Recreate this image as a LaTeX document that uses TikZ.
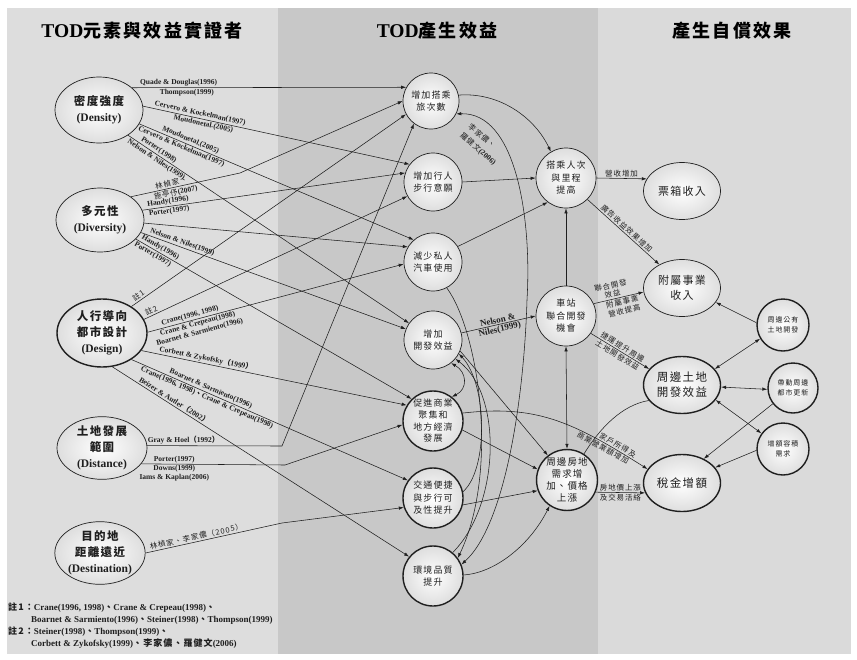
\documentclass[tikz,border=0pt]{standalone}
\usepackage{fontspec}
\setmainfont{Liberation Serif}
\newfontfamily\cjk[LetterSpace=12]{Noto Sans CJK TC}
\newfontfamily\cjkhead[LetterSpace=12]{Noto Sans CJK TC}
\usetikzlibrary{arrows.meta,shapes.geometric}
\newcommand{\zh}[1]{{\cjk #1}}
\newcommand{\zhm}[1]{{\cjk\mdseries #1}}
\newcommand{\zhh}[1]{{\fontsize{18}{22}\selectfont\cjkhead #1}}
\definecolor{panelA}{gray}{0.865}
\definecolor{panelB}{gray}{0.785}
\definecolor{panelC}{gray}{0.855}
\definecolor{ink}{gray}{0.12}

\tikzset{
  bub/.style={draw=ink, line width=0.7pt, inner color=white, outer color=black!13,
    inner sep=0pt, align=center, text=ink},
  heavy/.style={line width=1.4pt},
  elemnode/.style={bub, ellipse, minimum width=88pt, minimum height=66pt,
    font=\fontsize{11.5}{16}\selectfont\bfseries},
  gainnode/.style={bub, circle, minimum size=58pt, font=\fontsize{9}{12.5}\selectfont\cjk},
  outnode/.style={bub, ellipse, minimum width=77pt, minimum height=57pt,
    font=\fontsize{11}{15}\selectfont\cjk},
  sidenode/.style={bub, heavy, circle, minimum size=52pt, font=\fontsize{7}{10}\selectfont\cjk},
  edgelab/.style={inner sep=1.2pt, font=\fontsize{7.5}{8.5}\selectfont\bfseries, text=ink, align=center},
  edgelabbig/.style={inner sep=1.2pt, font=\fontsize{9}{10}\selectfont\bfseries, text=ink, align=center},
  zhlab/.style={inner sep=1.2pt, font=\fontsize{7.5}{9}\selectfont\cjk, text=ink, align=center},
  wire/.style={draw=ink, line width=0.55pt},
  arr/.style={wire, -{Latex[length=5pt,width=3.4pt]}},
  darr/.style={wire, {Latex[length=5pt,width=3.4pt]}-{Latex[length=5pt,width=3.4pt]}},
  headtext/.style={inner sep=0pt, font=\fontsize{19.5}{22}\selectfont\bfseries, text=black},
  foottext/.style={inner sep=0pt, anchor=west, font=\fontsize{9}{10}\selectfont\bfseries, text=ink},
}

\begin{document}
\begin{tikzpicture}[x=1pt,y=-1pt]
\useasboundingbox (0,0) rectangle (857,659);
\fill[white] (0,0) rectangle (857,659);
% three column panels
\fill[panelA] (7,8) rectangle (278,654);
\fill[panelB] (278,8) rectangle (598,654);
\fill[panelC] (598,8) rectangle (851,654);

% column headings
\node[headtext] at (142,31) {TOD\zhh{元素與效益實證者}};
\node[headtext] at (437,31) {TOD\zhh{產生效益}};
\node[headtext] at (732,31) {\zhh{產生自償效果}};

% TOD elements
\node[elemnode] (den) at (99,110) {\zh{密度強度}\\(Density)};
\node[elemnode, minimum height=64pt] (div) at (100,220) {\zh{多元性}\\(Diversity)};
\node[elemnode, heavy, minimum width=90pt, minimum height=68pt] (des) at (102,333) {\zh{人行導向}\\\zh{都市設計}\\(Design)};
\node[elemnode, minimum width=90pt, minimum height=62pt] (dis) at (102,448) {\zh{土地發展}\\\zh{範圍}\\(Distance)};
\node[elemnode, minimum width=84pt, minimum height=62pt] (dst) at (100,553) {\zh{目的地}\\\zh{距離遠近}\\(Destination)};

% benefits
\node[gainnode, minimum size=56pt] (m1) at (431,101) {增加搭乘\\旅次數};
\node[gainnode] (m2) at (433,182) {增加行人\\步行意願};
\node[gainnode] (m3) at (433,262) {減少私人\\汽車使用};
\node[gainnode] (m4) at (433,340) {增加\\開發效益};
\node[gainnode, heavy, minimum size=60pt, font=\fontsize{9}{11.7}\selectfont\cjk] (m5) at (433,421) {促進商業\\聚集和\\地方經濟\\發展};
\node[gainnode, heavy, minimum size=60pt] (m6) at (433,498) {交通便捷\\與步行可\\及性提升};
\node[gainnode, heavy, minimum size=60pt] (m7) at (433,576) {環境品質\\提升};
\node[gainnode, minimum size=60pt] (t1) at (566,178) {搭乘人次\\與里程\\提高};
\node[gainnode, minimum size=60pt] (t2) at (566,316) {車站\\聯合開發\\機會};
\node[gainnode, heavy, minimum size=60pt, font=\fontsize{9.5}{12}\selectfont\cjk] (t3) at (567,480) {周邊房地\\需求增\\加、價格\\上漲};

% self-financing outcomes
\node[outnode] (r1) at (682,191) {票箱收入};
\node[outnode] (r2) at (682,288) {附屬事業\\收入};
\node[outnode, heavy, font=\fontsize{11.5}{15}\selectfont\cjk] (r3) at (682,385) {周邊土地\\開發效益};
\node[outnode, heavy, font=\fontsize{11.5}{15}\selectfont\cjk] (r4) at (682,483) {稅金增額};
\node[sidenode] (s1) at (783,325) {周邊公有\\土地開發};
\node[sidenode, minimum size=50pt] (s2) at (793,388) {帶動周邊\\都市更新};
\node[sidenode] (s3) at (783,449) {增額容積\\需求};

% ---- density
\draw[arr] (den.34) -- node[edgelab,above,pos=0.17]{Quade \& Douglas(1996)} node[edgelab,below,pos=0.2]{Thompson(1999)} (m1.151);
\draw[arr] (den.5) -- node[edgelab,above,sloped,pos=0.21]{Cervero \& Kockelman(1997)} node[edgelab,below,sloped,pos=0.23]{Moudonetal.(2005)} (m2.143);
\draw[arr] (den.-19) -- node[edgelab,above,sloped,pos=0.18]{Moudonetal.(2005)} node[edgelab,below,sloped,pos=0.16]{Cervero \& Kockelman(1997)} (m3.131);
\draw[arr] (den.-41) -- node[edgelab,above,sloped,pos=0.1]{Porter(1998)} node[edgelab,below,sloped,pos=0.11]{Nelson \& Niles(1999)} (m4.145);

% ---- diversity
\coordinate (k1) at (240,173);
\draw[arr] (div.37) -- node[zhlab,above,sloped,pos=0.38]{林楨家、} node[edgelab,below,sloped,pos=0.4]{\zhm{施亭伃}(2007)} (k1) -- (m1.180);
\draw[arr] (div.13) -- node[edgelab,above,sloped,pos=0.1]{Handy(1996)} node[edgelab,below,sloped,pos=0.1]{Porter(1997)} (m2.162);
\draw[arr] (div.-4) -- (m3.149);
\draw[arr] (div.-17) -- node[edgelab,above,sloped,pos=0.15]{Nelson \& Niles(1999)} (m4.158);
\draw[arr] (div.-28) -- node[edgelab,above,sloped,pos=0.08]{Handy(1996)} node[edgelab,below,sloped,pos=0.07]{Porter(1997)} (m5.134);

% ---- design
\draw[arr] (des.42) -- node[zhlab,above,sloped,pos=0.035]{註1} (m1.208);
\draw[arr] (des.18) -- node[zhlab,above,sloped,pos=0.035]{註2} (m2.209);
\draw[arr] (des.1) -- node[edgelab,above,sloped,pos=0.17]{Crane(1996, 1998)} node[edgelab,below,sloped,pos=0.19]{Crane \& Crepeau(1998)\\Boarnet \& Sarmiento(1996)} (m3.184);
\draw[arr] (des.-24) -- node[edgelab,above,sloped,pos=0.24]{Corbett \& Zykofsky\zh{（}1999\zh{）}} (m5.149);
\draw[arr] (des.-42) -- node[edgelab,above,sloped,pos=0.28]{Boarnet \& Sarmiento(1996)} node[edgelab,below,sloped,pos=0.28]{Crane(1996, 1998)\zh{、}Crane \& Crepeau(1998)} (m6.145);
\draw[arr] (des.-73) -- node[edgelab,above,sloped,pos=0.2]{Beizer \& Autler\zh{（}2002\zh{）}} (m7.141);

% ---- distance
\coordinate (k2) at (282,446);
\draw[arr] (dis.3) -- node[edgelab,above,pos=0.27]{Gray \& Hoel\zh{（}1992\zh{）}} (k2) -- (m1.233);
\coordinate (k3) at (285,465);
\draw[arr] (dis.-22) -- node[edgelab,above,pos=0.23]{Porter(1997)} node[edgelab,below,pos=0.23]{Downs(1999)\\Iams \& Kaplan(2006)} (k3) -- (m5.187);

% ---- destination
\coordinate (k4) at (282,523);
\draw[arr] (dst.0) -- node[zhlab,above,sloped,pos=0.38]{林楨家、李家儂（2005）} (k4) -- (m6.198);

% ---- benefits among themselves
\draw[arr] (m1.12) .. controls (500,92) and (535,118) .. (t1.120);
\draw[arr] (m2.0) -- (t1.180);
\draw[arr] (m3.32) -- (t1.233);
\draw[arr] (m4.14) -- node[edgelabbig,above,sloped]{Nelson \&} node[edgelabbig,below,sloped]{Niles(1999)} (t2.180);
\draw[arr] (t2.north) -- (t1.south);
\draw[darr] (t2.south) -- (t3.north);
\draw[arr] (m4.-22) -- (t3.128);
\draw[arr] (m5.-17) -- (t3.160);
\draw[arr] (m6.-13) -- (t3.200);
\draw[arr] (m7.2) .. controls (495,573) and (530,545) .. (t3.236);
\draw[darr] (m4.-52) .. controls (467,372) and (468,389) .. (m5.52);
\draw[arr] (m6.12) .. controls (488,470) and (488,385) .. (m4.-28);
\draw[arr] (m7.50) .. controls (500,505) and (503,395) .. (m4.-40);
\draw[arr] (m3.-62) .. controls (478,330) and (500,470) .. (m7.36);
\draw[darr] (m1.-27) .. controls (515,112) and (532,215) .. (527,300) .. controls (524,400) and (505,525) .. (m7.22);
\node[zhlab, rotate=-40] at (482,136) {李家儂、};
\node[edgelab, rotate=-40] at (478,149) {\zhm{羅健文}(2006)};

% ---- towards the outcomes
\draw[arr] (t1.east) -- node[zhlab,above]{營收增加} (r1.161);
\draw[arr] (t1.-45) -- node[zhlab,above,sloped]{廣告收益效果增加} (r2.134);
\draw[arr] (t2.24) -- node[zhlab,above,sloped,pos=0.4]{聯合開發\\效益} node[zhlab,below,sloped,pos=0.55]{附屬事業\\營收提高} (r2.186);
\draw[arr] (t2.-35) -- node[zhlab,above,sloped]{捷運提升周邊} node[zhlab,below,sloped]{土地開發效益} (r3.154);
\draw[arr] (t3.-23) -- node[zhlab,above]{房地價上漲} node[zhlab,below]{及交易活絡} (r4.195);
\draw[wire] (t3.57) .. controls (600,428) and (622,405) .. (r3.205);
\draw[arr] (m5.15) .. controls (535,405) and (570,420) .. node[zhlab,above,sloped,pos=0.85]{家戶所得及} node[zhlab,below,sloped,pos=0.8]{商業營業額增加} (r4.158);

% ---- side effects
\draw[arr] (s1.175) -- (r2.-23);
\draw[darr] (s1.211) -- (r3.26);
\draw[darr] (r3.-3) -- (s2.183);
\draw[darr] (r3.-24) -- (s3.144);
\draw[arr] (s2.218) -- (r4.48);
\draw[arr] (s3.183) -- (r4.25);

% notes
\node[foottext] (n1) at (8,608) {\zh{註1：}Crane(1996, 1998)\zh{、}Crane \& Crepeau(1998)\zh{、}};
\node[foottext] (n1b) at (31,620) {Boarnet \& Sarmiento(1996)\zh{、}Steiner(1998)\zh{、}Thompson(1999)};
\node[foottext] (n2) at (8,632) {\zh{註2：}Steiner(1998)\zh{、}Thompson(1999)\zh{、}};
\node[foottext] (n2b) at (31,644) {Corbett \& Zykofsky(1999)\zh{、李家儂、羅健文}(2006)};
\end{tikzpicture}
\end{document}
